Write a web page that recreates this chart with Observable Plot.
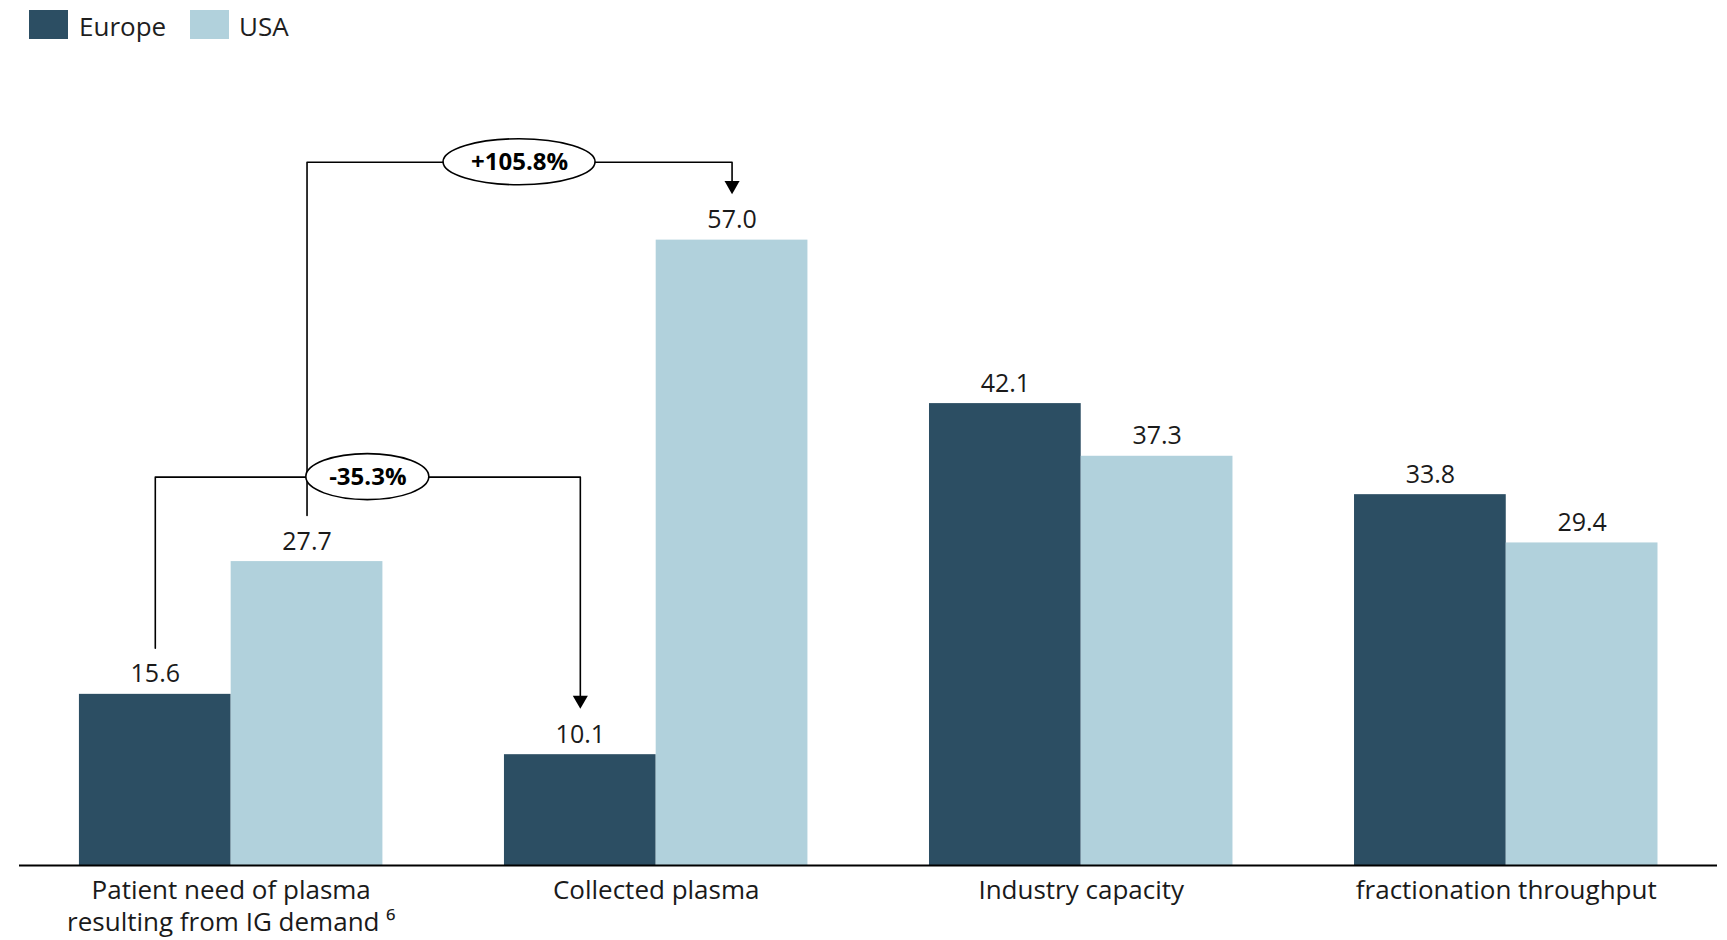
<!DOCTYPE html>
<html>
<head>
<meta charset="utf-8">
<script src="https://cdn.jsdelivr.net/npm/d3@7"></script>
<script src="https://cdn.jsdelivr.net/npm/@observablehq/plot@0.6"></script>
<style>
  body { margin: 0; background: #fff; font-family: "Open Sans", sans-serif; }
  #legend { position: relative; height: 50px; }
  .sw { position: absolute; top: 10px; width: 39px; height: 29px; }
  .lb { position: absolute; top: 12px; height: 29px; line-height: 29px; font-size: 26px; color: #1e1e1e; }
</style>
</head>
<body>
<div id="legend"></div>
<div id="chart"></div>
<script>
// ---- data ----
const categories = [
  "Patient need of plasma\nresulting from IG demand \u2076",
  "Collected plasma",
  "Industry capacity",
  "fractionation throughput"
];
const seriesNames = ["Europe", "USA"];
const europe = [15.6, 10.1, 42.1, 33.8];
const usa = [27.7, 57.0, 37.3, 29.4];
const changeLabels = ["+105.8%", "-35.3%"];
const changeFromCategory = [0, 0];
const changeToCategory = [1, 1];
const changeSeries = ["USA", "Europe"];

// ---- style / layout ----
const colors = ["#2c4e63", "#b1d1dc"];
const barW = 0.357;          // bar width in category units
const gap = 4.2;             // gap between value and bracket ends (value units)
const bracketLevels = [64.1, 35.4];
const ellipseRx = [76, 61.5];
const ink = "#1a1a1a";

// legend
const legend = document.getElementById("legend");
const legPos = [[29, 79], [190, 239]];
seriesNames.forEach((s, k) => {
  const sw = document.createElement("div");
  sw.className = "sw"; sw.style.left = legPos[k][0] + "px"; sw.style.background = colors[k];
  const lb = document.createElement("div");
  lb.className = "lb"; lb.style.left = legPos[k][1] + "px"; lb.textContent = s;
  legend.append(sw, lb);
});

// table
const rows = categories.flatMap((c, i) => [
  {i, series: "Europe", value: europe[i]},
  {i, series: "USA", value: usa[i]}
]);
const center = d => d.i + (d.series === "Europe" ? -barW / 2 : barW / 2);
const valueOf = (i, s) => (s === "Europe" ? europe : usa)[i];

const ann = changeLabels.map((label, k) => {
  const s = changeSeries[k];
  const xa = changeFromCategory[k] + (s === "Europe" ? -barW / 2 : barW / 2);
  const xb = changeToCategory[k] + (s === "Europe" ? -barW / 2 : barW / 2);
  const level = bracketLevels[k];
  return {
    label, level, xa, xb, mid: (xa + xb) / 2, rx: ellipseRx[k],
    tipY: valueOf(changeToCategory[k], s) + gap,
    path: [
      {k, x: xa, y: valueOf(changeFromCategory[k], s) + gap},
      {k, x: xa, y: level},
      {k, x: xb, y: level},
      {k, x: xb, y: valueOf(changeToCategory[k], s) + gap + 1.0}
    ]
  };
});

const chart = Plot.plot({
  width: 1727,
  height: 890,
  marginLeft: 19,
  marginRight: 10,
  marginTop: 47,
  marginBottom: 75,
  x: {type: "linear", domain: [-0.498, 3.497], axis: null},
  y: {domain: [0, 70], axis: null},
  color: {domain: seriesNames, range: colors},
  style: {fontFamily: "'Open Sans', sans-serif", color: ink, background: "#fff", overflow: "visible"},
  marks: [
    Plot.rectY(rows, {
      x1: d => d.i + (d.series === "Europe" ? -barW : 0),
      x2: d => d.i + (d.series === "Europe" ? 0 : barW),
      y1: 0, y2: "value", fill: "series"
    }),
    Plot.ruleY([0], {stroke: "#000", strokeWidth: 2}),
    Plot.text(rows, {
      x: center, y: "value", text: d => d.value.toFixed(1),
      lineAnchor: "bottom", dy: -12, fontSize: 25, fill: ink
    }),
    Plot.text(categories, {
      x: (d, i) => i, y: 0, text: d => d,
      lineAnchor: "top", dy: 10.5, fontSize: 26, lineHeight: 1.23, fill: ink
    }),
    Plot.line(ann.flatMap(a => a.path), {x: "x", y: "y", z: "k", stroke: "#000", strokeWidth: 1.6}),
    Plot.dot(ann, {x: "xb", y: "tipY", symbol: "triangle", rotate: 180, r: 5.6, dy: -8.6, fill: "#000", stroke: "none"}),
    (index, scales) => {
      const g = d3.create("svg:g");
      for (const a of ann) {
        g.append("ellipse")
          .attr("cx", scales.x(a.mid)).attr("cy", scales.y(a.level))
          .attr("rx", a.rx).attr("ry", 23)
          .attr("fill", "#fff").attr("stroke", "#000").attr("stroke-width", 1.6);
      }
      return g.node();
    },
    Plot.text(ann, {
      x: "mid", y: "level", text: "label", fontWeight: "bold",
      fontSize: 24, lineAnchor: "middle", fill: "#000"
    })
  ]
});
document.getElementById("chart").append(chart);
</script>
</body>
</html>
